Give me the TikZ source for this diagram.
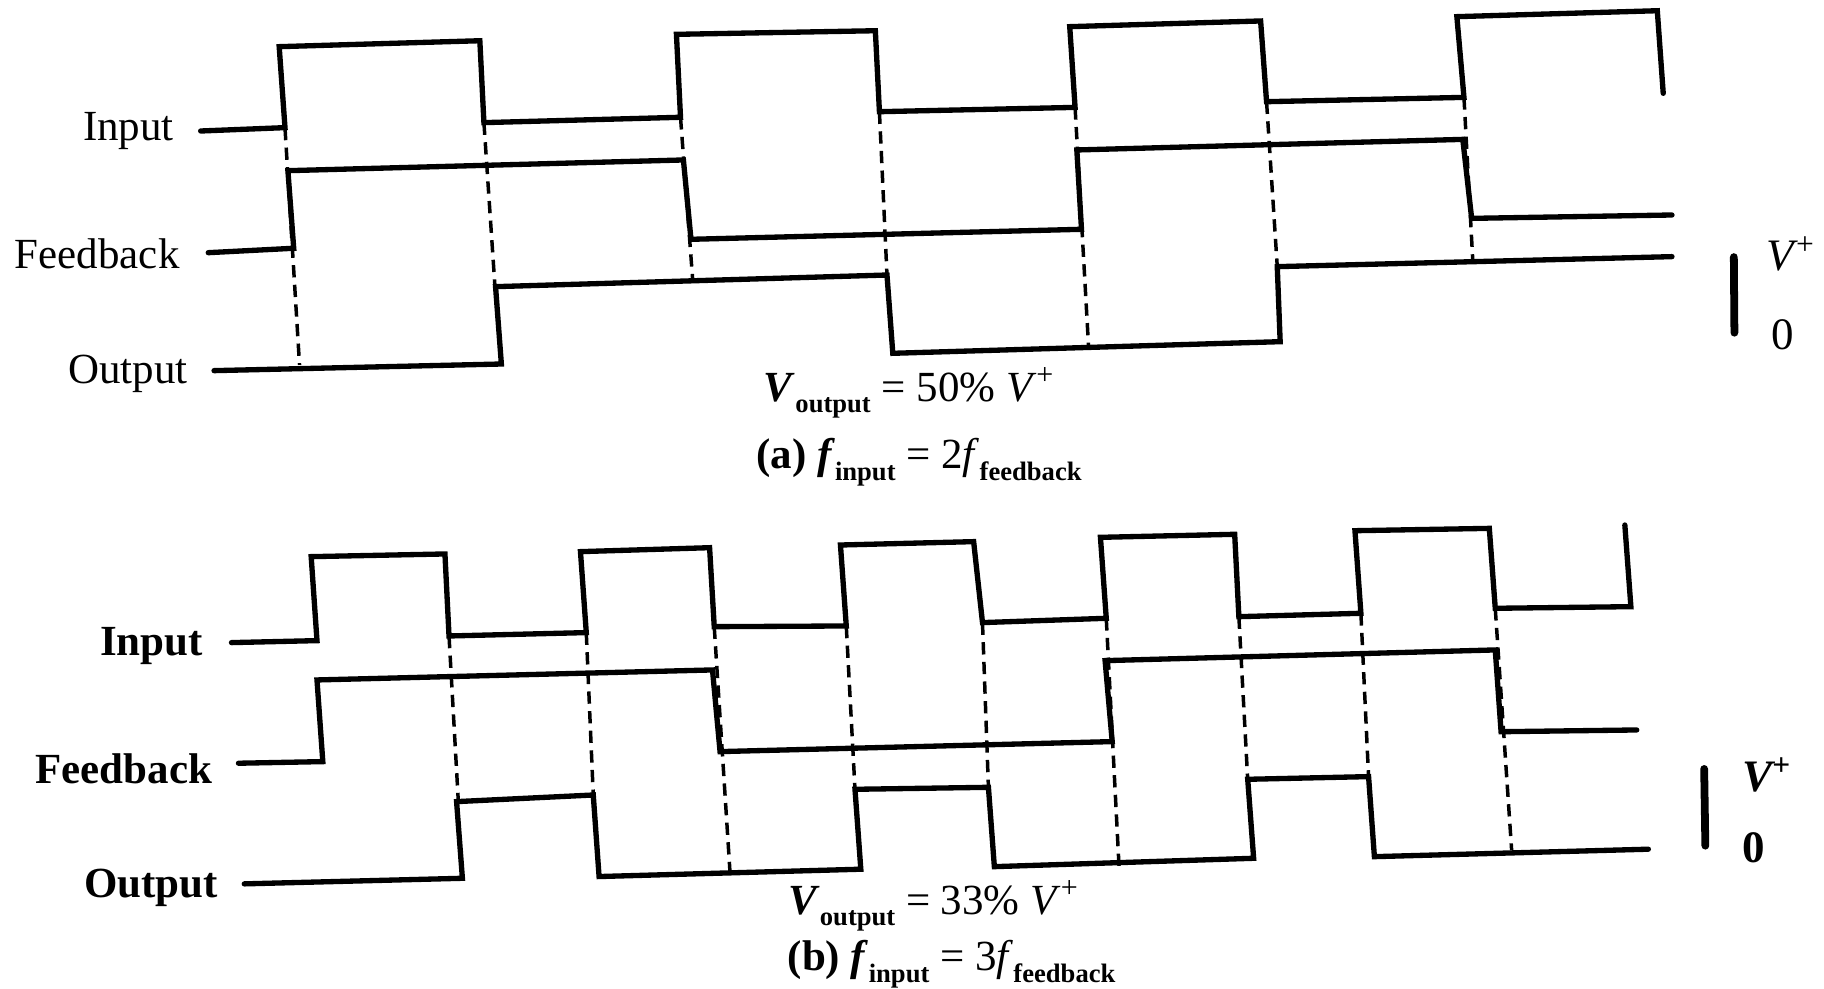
\documentclass[tikz,border=0pt]{standalone}
\usepackage{fontspec}
\setmainfont{Liberation Serif}
\newcommand{\sbs}[1]{\raisebox{-0.6ex}{\fontsize{6.5}{7}\bfseries\selectfont #1}}
\begin{document}
\begin{tikzpicture}[x=0.01cm,y=-0.01cm]
\tikzset{
  wave/.style={line width=1.3pt, line join=miter, line cap=round},
  guide/.style={line width=0.85pt, dash pattern=on 3pt off 1.8pt},
  scalebar/.style={line width=1.9pt, line cap=round},
  lbla/.style={font=\fontsize{10.5}{12}\selectfont, anchor=east, inner sep=0pt},
  lblb/.style={font=\fontsize{10.5}{12}\bfseries\selectfont, anchor=east, inner sep=0pt},
  unita/.style={font=\fontsize{11}{13}\selectfont, anchor=west, inner sep=0pt},
  unitb/.style={font=\fontsize{11}{13}\bfseries\selectfont, anchor=west, inner sep=0pt},
  capt/.style={font=\fontsize{10.5}{13}\selectfont, inner sep=0pt}
}
\useasboundingbox (0,0) rectangle (1568,850);
% ---------------- (a) ----------------
\node[lbla] (ain) at (150,113) {Input};
\node[lbla] (afb) at (155,218) {Feedback};
\node[lbla] (aout) at (162,321) {Output};
% dashed guides
\draw[guide] (245,110) -- (257.5,313.7);
\draw[guide] (416,105.4) -- (425.5,246.4);
\draw[guide] (585,100.8) -- (595.5,241);
\draw[guide] (756,96) -- (762.5,236.4);
\draw[guide] (924.2,92.3) -- (935.8,298);
\draw[guide] (1088.8,87.4) -- (1098,229.2);
\draw[guide] (1258.5,83.7) -- (1266,222.5);
% waveforms
\draw[wave] (172.5,112.6) -- (245,109.7) -- (240,40.1) -- (412.5,35) -- (416,105.4) -- (585,100.8) -- (581.5,29.5) -- (752.5,26.4) -- (756,96) -- (924.2,92.3) -- (919.6,22.9) -- (1083.7,18) -- (1088.8,87.4) -- (1258.5,83.7) -- (1252.4,14.3) -- (1424.7,9.2) -- (1429.8,80.2);
\draw[wave] (179,217.2) -- (252.5,213.4) -- (247.5,146.7) -- (587.5,137.5) -- (594,205.7) -- (929.7,197.1) -- (925.7,128.9) -- (1257.5,119.8) -- (1265.1,187.7) -- (1437.3,184.8);
\draw[wave] (184,318.6) -- (431,312.9) -- (426,246.4) -- (762.5,236.4) -- (767.5,303.7) -- (1100.5,293.7) -- (1098,229.2) -- (1437.3,220.6);
% scale
\draw[scalebar] (1490.5,221) -- (1491,286);
\node[unita] (avp) at (1518,218) {\itshape V\textsuperscript{+}};
\node[unita] (a0) at (1522,288) {0};
% captions
\node[capt] (acap1) at (782,338) {\textit{\bfseries V}\sbs{output} = 50\% \textit{V}\textsuperscript{+}};
\node[capt] (acap2) at (790,397) {\textbf{(a)} \textit{\bfseries f}\sbs{input} = 2\textit{f}\sbs{feedback}};
% ---------------- (b) ----------------
\node[lblb] (bin) at (175,555) {Input};
\node[lblb] (bfb) at (183,661) {Feedback};
\node[lblb] (bout) at (188,763) {Output};
\draw[guide] (386,546.7) -- (394,689);
\draw[guide] (504,543.8) -- (510,683.4);
\draw[guide] (614,538.7) -- (627.5,749);
\draw[guide] (727.5,538.1) -- (735,678.5);
\draw[guide] (844.6,535.2) -- (849.7,676.8);
\draw[guide] (951,531.5) -- (962,745);
\draw[guide] (1065,530.1) -- (1072.6,669.9);
\draw[guide] (1169.9,527.2) -- (1176.5,667.6);
\draw[guide] (1285.4,522.9) -- (1299.5,731);
\draw[wave] (199,552.4) -- (272.5,550.7) -- (267.5,478.5) -- (382.5,476.2) -- (386,546.7) -- (504,543.8) -- (499,474.2) -- (610,470.8) -- (614,538.7) -- (727.5,538.1) -- (722.5,468.5) -- (837,465.6) -- (844.6,535.2) -- (951,531.5) -- (946,461.9) -- (1061.4,459.3) -- (1065,530.1) -- (1169.9,527.2) -- (1164.8,456.2) -- (1280.3,454.2) -- (1285.4,522.9) -- (1402,521.5) -- (1396.8,451.3);
\draw[wave] (205,656.1) -- (277.5,654.7) -- (272.5,584.5) -- (612.5,575.9) -- (619,646.1) -- (956.1,637.5) -- (950,567.9) -- (1285.4,558.7) -- (1290.4,629) -- (1407,627.5);
\draw[wave] (210,759.8) -- (397.5,755) -- (392.5,689.1) -- (510,683.4) -- (515,753.5) -- (740,747.2) -- (735,678.5) -- (849.7,676.8) -- (854.8,745) -- (1077.7,737.8) -- (1072.6,669.9) -- (1176.5,667.6) -- (1181.5,736.4) -- (1417,730);
\draw[scalebar] (1465,661) -- (1466,727);
\node[unitb] (bvp) at (1497,666) {\itshape V\textsuperscript{+}};
\node[unitb] (b0) at (1497,729) {0};
\node[capt] (bcap1) at (803,779) {\textit{\bfseries V}\sbs{output} = 33\% \textit{V}\textsuperscript{+}};
\node[capt] (bcap2) at (818,829) {\textbf{(b)} \textit{\bfseries f}\sbs{input} = 3\textit{f}\sbs{feedback}};
\end{tikzpicture}
\end{document}
